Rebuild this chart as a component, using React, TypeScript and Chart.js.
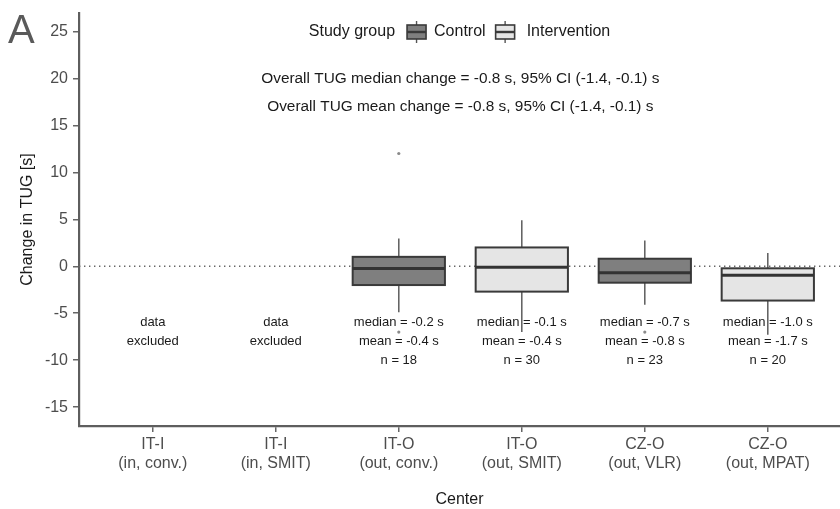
import React, { useEffect, useRef } from "react";
import { Chart, registerables } from "chart.js";

Chart.register(...registerables);

// ---- data ----
const centerCodes = ["IT-I", "IT-I", "IT-O", "IT-O", "CZ-O", "CZ-O"];
const centerDetails = ["(in, conv.)", "(in, SMIT)", "(out, conv.)", "(out, SMIT)", "(out, VLR)", "(out, MPAT)"];
const studyGroup: (string | null)[] = [null, null, "Control", "Intervention", "Control", "Intervention"];
const whiskerLow: (number | null)[] = [null, null, -4.9, -7.0, -4.1, -7.3];
const q1: (number | null)[] = [null, null, -2.0, -2.7, -1.75, -3.65];
const median: (number | null)[] = [null, null, -0.25, -0.1, -0.7, -0.97];
const q3: (number | null)[] = [null, null, 1.0, 2.0, 0.8, -0.22];
const whiskerHigh: (number | null)[] = [null, null, 2.95, 4.9, 2.75, 1.4];
const outlierX = [2, 2, 4];
const outlierY = [12.0, -7.0, -7.0];
const medianLabels = ["", "", "median = -0.2 s", "median = -0.1 s", "median = -0.7 s", "median = -1.0 s"];
const meanLabels = ["", "", "mean = -0.4 s", "mean = -0.4 s", "mean = -0.8 s", "mean = -1.7 s"];
const nLabels = ["", "", "n = 18", "n = 30", "n = 23", "n = 20"];
const yTicks = [-15, -10, -5, 0, 5, 10, 15, 20, 25];
const overallLines = [
  "Overall TUG median change = -0.8 s, 95% CI (-1.4, -0.1) s",
  "Overall TUG mean change = -0.8 s, 95% CI (-1.4, -0.1) s",
];
const overallY = [20, 17];
const statY = [-6, -8, -10];
const legendTitle = "Study group";
const groupNames = ["Control", "Intervention"];
const groupFills: Record<string, string> = { Control: "#7f7f7f", Intervention: "#e5e5e5" };

const FONT = '"Liberation Sans", Arial, Helvetica, sans-serif';
const BOX_W = 0.75;

export default function App() {
  const ref = useRef<HTMLCanvasElement>(null);

  useEffect(() => {
    document.body.style.margin = "0";
    const canvas = ref.current!;

    const drawKey = (ctx: CanvasRenderingContext2D, x: number, cy: number, fill: string) => {
      const w = 19;
      ctx.strokeStyle = "#555";
      ctx.lineWidth = 1.4;
      ctx.beginPath();
      ctx.moveTo(x + w / 2, cy - 11);
      ctx.lineTo(x + w / 2, cy + 11);
      ctx.stroke();
      ctx.fillStyle = fill;
      ctx.fillRect(x, cy - 7, w, 14);
      ctx.strokeStyle = "#3a3a3a";
      ctx.lineWidth = 1.6;
      ctx.strokeRect(x, cy - 7, w, 14);
      ctx.lineWidth = 2.4;
      ctx.beginPath();
      ctx.moveTo(x, cy);
      ctx.lineTo(x + w, cy);
      ctx.stroke();
    };

    const boxPlugin = {
      id: "boxplots",
      beforeDatasetsDraw(chart: any) {
        const { ctx, chartArea } = chart;
        const x = chart.scales.x;
        const y = chart.scales.y;
        ctx.save();
        // zero reference line
        const y0 = y.getPixelForValue(0);
        ctx.strokeStyle = "#666";
        ctx.lineWidth = 1.3;
        ctx.setLineDash([1.4, 3.6]);
        ctx.beginPath();
        ctx.moveTo(chartArea.left, y0);
        ctx.lineTo(chartArea.right, y0);
        ctx.stroke();
        ctx.setLineDash([]);

        for (let i = 0; i < centerCodes.length; i++) {
          const g = studyGroup[i];
          if (g == null || median[i] == null) continue;
          const cx = x.getPixelForValue(i);
          const left = x.getPixelForValue(i - BOX_W / 2);
          const right = x.getPixelForValue(i + BOX_W / 2);
          const pWL = y.getPixelForValue(whiskerLow[i]!);
          const pQ1 = y.getPixelForValue(q1[i]!);
          const pMed = y.getPixelForValue(median[i]!);
          const pQ3 = y.getPixelForValue(q3[i]!);
          const pWH = y.getPixelForValue(whiskerHigh[i]!);
          // whiskers
          ctx.strokeStyle = "#5e5e5e";
          ctx.lineWidth = 1.5;
          ctx.beginPath();
          ctx.moveTo(cx, pQ1);
          ctx.lineTo(cx, pWL);
          ctx.moveTo(cx, pQ3);
          ctx.lineTo(cx, pWH);
          ctx.stroke();
          // box
          ctx.fillStyle = groupFills[g];
          ctx.fillRect(left, pQ3, right - left, pQ1 - pQ3);
          ctx.strokeStyle = "#3a3a3a";
          ctx.lineWidth = 2;
          ctx.strokeRect(left, pQ3, right - left, pQ1 - pQ3);
          // median
          ctx.strokeStyle = "#333";
          ctx.lineWidth = 3;
          ctx.beginPath();
          ctx.moveTo(left, pMed);
          ctx.lineTo(right, pMed);
          ctx.stroke();
        }
        ctx.restore();
      },
      afterDraw(chart: any) {
        const { ctx, chartArea } = chart;
        const x = chart.scales.x;
        const y = chart.scales.y;
        ctx.save();
        ctx.textAlign = "center";
        ctx.textBaseline = "middle";
        ctx.fillStyle = "#1a1a1a";

        // per-center stats
        ctx.font = `13px ${FONT}`;
        for (let i = 0; i < centerCodes.length; i++) {
          const cx = x.getPixelForValue(i);
          if (studyGroup[i] == null) {
            ctx.fillText("data", cx, y.getPixelForValue(statY[0]));
            ctx.fillText("excluded", cx, y.getPixelForValue(statY[1]));
          } else {
            ctx.fillText(medianLabels[i], cx, y.getPixelForValue(statY[0]));
            ctx.fillText(meanLabels[i], cx, y.getPixelForValue(statY[1]));
            ctx.fillText(nLabels[i], cx, y.getPixelForValue(statY[2]));
          }
        }

        // overall lines
        ctx.font = `15.4px ${FONT}`;
        const midX = x.getPixelForValue(2.5);
        overallLines.forEach((t, k) => ctx.fillText(t, midX, y.getPixelForValue(overallY[k])));

        // legend
        ctx.font = `16px ${FONT}`;
        const keyW = 19;
        const wTitle = ctx.measureText(legendTitle).width;
        const wC = ctx.measureText(groupNames[0]).width;
        const wI = ctx.measureText(groupNames[1]).width;
        const total = wTitle + 12 + keyW + 8 + wC + 10 + keyW + 12 + wI;
        let lx = (chartArea.left + chartArea.right) / 2 - total / 2;
        const ly = 32;
        ctx.textAlign = "left";
        ctx.fillStyle = "#1a1a1a";
        ctx.fillText(legendTitle, lx, ly);
        lx += wTitle + 12;
        drawKey(ctx, lx, ly, groupFills[groupNames[0]]);
        lx += keyW + 8;
        ctx.fillStyle = "#1a1a1a";
        ctx.fillText(groupNames[0], lx, ly);
        lx += wC + 10;
        drawKey(ctx, lx, ly, groupFills[groupNames[1]]);
        lx += keyW + 12;
        ctx.fillStyle = "#1a1a1a";
        ctx.fillText(groupNames[1], lx, ly);

        // panel tag
        ctx.font = `40px ${FONT}`;
        ctx.fillStyle = "#5a5a5a";
        ctx.textBaseline = "alphabetic";
        ctx.fillText("A", 8, 43);
        ctx.restore();
      },
    };

    const chart = new Chart(canvas, {
      type: "scatter",
      data: {
        datasets: [
          {
            label: "outliers",
            data: outlierX.map((v, i) => ({ x: v, y: outlierY[i] })),
            pointRadius: 1.6,
            pointBackgroundColor: "#8a8a8a",
            pointBorderWidth: 0,
            pointBorderColor: "#8a8a8a",
          },
        ],
      },
      options: {
        responsive: false,
        animation: false,
        layout: { autoPadding: false, padding: { left: 0, right: 0, top: 13, bottom: 0 } },
        plugins: { legend: { display: false }, tooltip: { enabled: false } },
        scales: {
          x: {
            type: "linear",
            min: -0.6,
            max: 5.587,
            afterBuildTicks: (s: any) => {
              s.ticks = centerCodes.map((_, i) => ({ value: i }));
            },
            afterFit: (s: any) => {
              s.height = 83;
              s.paddingLeft = 0;
              s.paddingRight = 0;
            },
            ticks: {
              autoSkip: false,
              maxRotation: 0,
              padding: 3,
              color: "#4d4d4d",
              font: { family: FONT, size: 16 },
              callback: (v: any) => {
                const i = Math.round(Number(v));
                return [centerCodes[i], centerDetails[i]];
              },
            },
            grid: { display: true, drawOnChartArea: false, drawTicks: true, tickLength: 6, color: "#666", lineWidth: 1.5 },
            border: { display: true, color: "#5e5e5e", width: 2.2 },
            title: {
              display: true,
              text: "Center",
              color: "#1a1a1a",
              font: { family: FONT, size: 16 },
              padding: { top: 0, bottom: 0 },
            },
          },
          y: {
            type: "linear",
            min: -17.0,
            max: 26.95,
            afterBuildTicks: (s: any) => {
              s.ticks = yTicks.map((v) => ({ value: v }));
            },
            afterFit: (s: any) => {
              s.width = 79;
              s.paddingTop = 0;
              s.paddingBottom = 0;
            },
            ticks: {
              padding: 5,
              color: "#4d4d4d",
              font: { family: FONT, size: 16 },
              callback: (v: any) => String(v),
            },
            grid: { display: true, drawOnChartArea: false, drawTicks: true, tickLength: 6, color: "#666", lineWidth: 1.5 },
            border: { display: true, color: "#5e5e5e", width: 2.2 },
            title: {
              display: true,
              text: "Change in TUG [s]",
              color: "#1a1a1a",
              font: { family: FONT, size: 16 },
              padding: { top: 18, bottom: 0 },
            },
          },
        },
      },
      plugins: [boxPlugin],
    });

    return () => chart.destroy();
  }, []);

  return (
    <div style={{ width: 840, height: 509 }}>
      <canvas ref={ref} width={840} height={509} style={{ display: "block" }} />
    </div>
  );
}
